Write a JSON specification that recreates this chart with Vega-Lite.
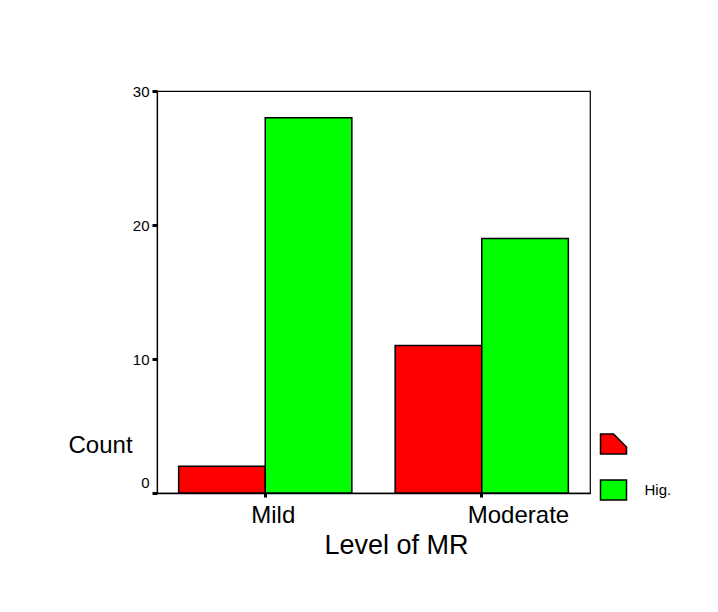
{
  "$schema": "https://vega.github.io/schema/vega-lite/v6.json",
  "autosize": {"type": "none"},
  "padding": {"left": 157, "top": 91, "right": 128, "bottom": 119},
  "width": 433,
  "height": 402,
  "background": "white",
  "config": {
    "font": "Liberation Sans",
    "view": {"stroke": "#000000", "strokeWidth": 1.2},
    "axis": {"grid": false, "domainColor": "#000000", "tickColor": "#000000", "labelColor": "#000000", "titleColor": "#000000", "labelFont": "Liberation Sans", "titleFont": "Liberation Sans", "titleFontWeight": "normal"}
  },
  "data": {
    "values": [
      {"level": "Mild", "group": "Low", "count": 2},
      {"level": "Mild", "group": "High", "count": 28},
      {"level": "Moderate", "group": "Low", "count": 11},
      {"level": "Moderate", "group": "High", "count": 19}
    ]
  },
  "mark": {"type": "bar", "stroke": "#000000", "strokeWidth": 1.5},
  "encoding": {
    "x": {
      "field": "level",
      "type": "nominal",
      "sort": ["Mild", "Moderate"],
      "scale": {"paddingInner": 0.2, "paddingOuter": 0.1},
      "axis": {
        "title": "Level of MR",
        "titleFontSize": 27,
        "titleAlign": "center",
        "titleBaseline": "alphabetic",
        "titleX": 239,
        "titleY": 60,
        "labelAngle": 0,
        "labelAlign": "left",
        "labelBaseline": "alphabetic",
        "labelOffset": -14,
        "labelFontSize": 24,
        "labelPadding": 25,
        "tickSize": 4,
        "tickWidth": 3,
        "domainWidth": 1.5
      }
    },
    "xOffset": {
      "field": "group",
      "type": "nominal",
      "sort": ["Low", "High"],
      "scale": {"paddingInner": 0, "paddingOuter": 0}
    },
    "y": {
      "field": "count",
      "type": "quantitative",
      "scale": {"domain": [0, 30], "nice": false},
      "axis": {
        "title": "Count",
        "titleAngle": 0,
        "titleAlign": "left",
        "titleBaseline": "alphabetic",
        "titleX": -89,
        "titleY": 361,
        "titleFontSize": 24,
        "values": [0, 10, 20, 30],
        "labelFontSize": 15,
        "labelPadding": 3,
        "labelOffset": {"condition": {"test": "datum.value == 0", "value": -11}, "value": 0},
        "tickSize": 5,
        "tickWidth": 3,
        "domainWidth": 1.2
      }
    },
    "color": {
      "field": "group",
      "type": "nominal",
      "sort": ["Low", "High"],
      "scale": {"domain": ["Low", "High"], "range": ["#FF0000", "#00FF00"]},
      "legend": {
        "orient": "none",
        "legendX": 445.5,
        "legendY": 342,
        "title": null,
        "padding": 0,
        "symbolSize": 400,
        "rowPadding": 20,
        "labelFontSize": 15,
        "labelColor": "#000000",
        "labelOffset": 20,
        "labelExpr": "datum.label == 'High' ? 'Hig.' : ''",
        "symbolStrokeColor": "#000000",
        "symbolStrokeWidth": 1.5,
        "symbolOpacity": 1,
        "encode": {
          "symbols": {
            "update": {
              "shape": {"signal": "datum.value == 'Low' ? 'M-1.3,-1L0,-1L1.3,0.3L1.3,1L-1.3,1Z' : 'M-1.3,-1L1.3,-1L1.3,1L-1.3,1Z'"},
              "stroke": {"value": "#000000"},
              "strokeWidth": {"value": 1.5}
            }
          }
        }
      }
    }
  }
}
